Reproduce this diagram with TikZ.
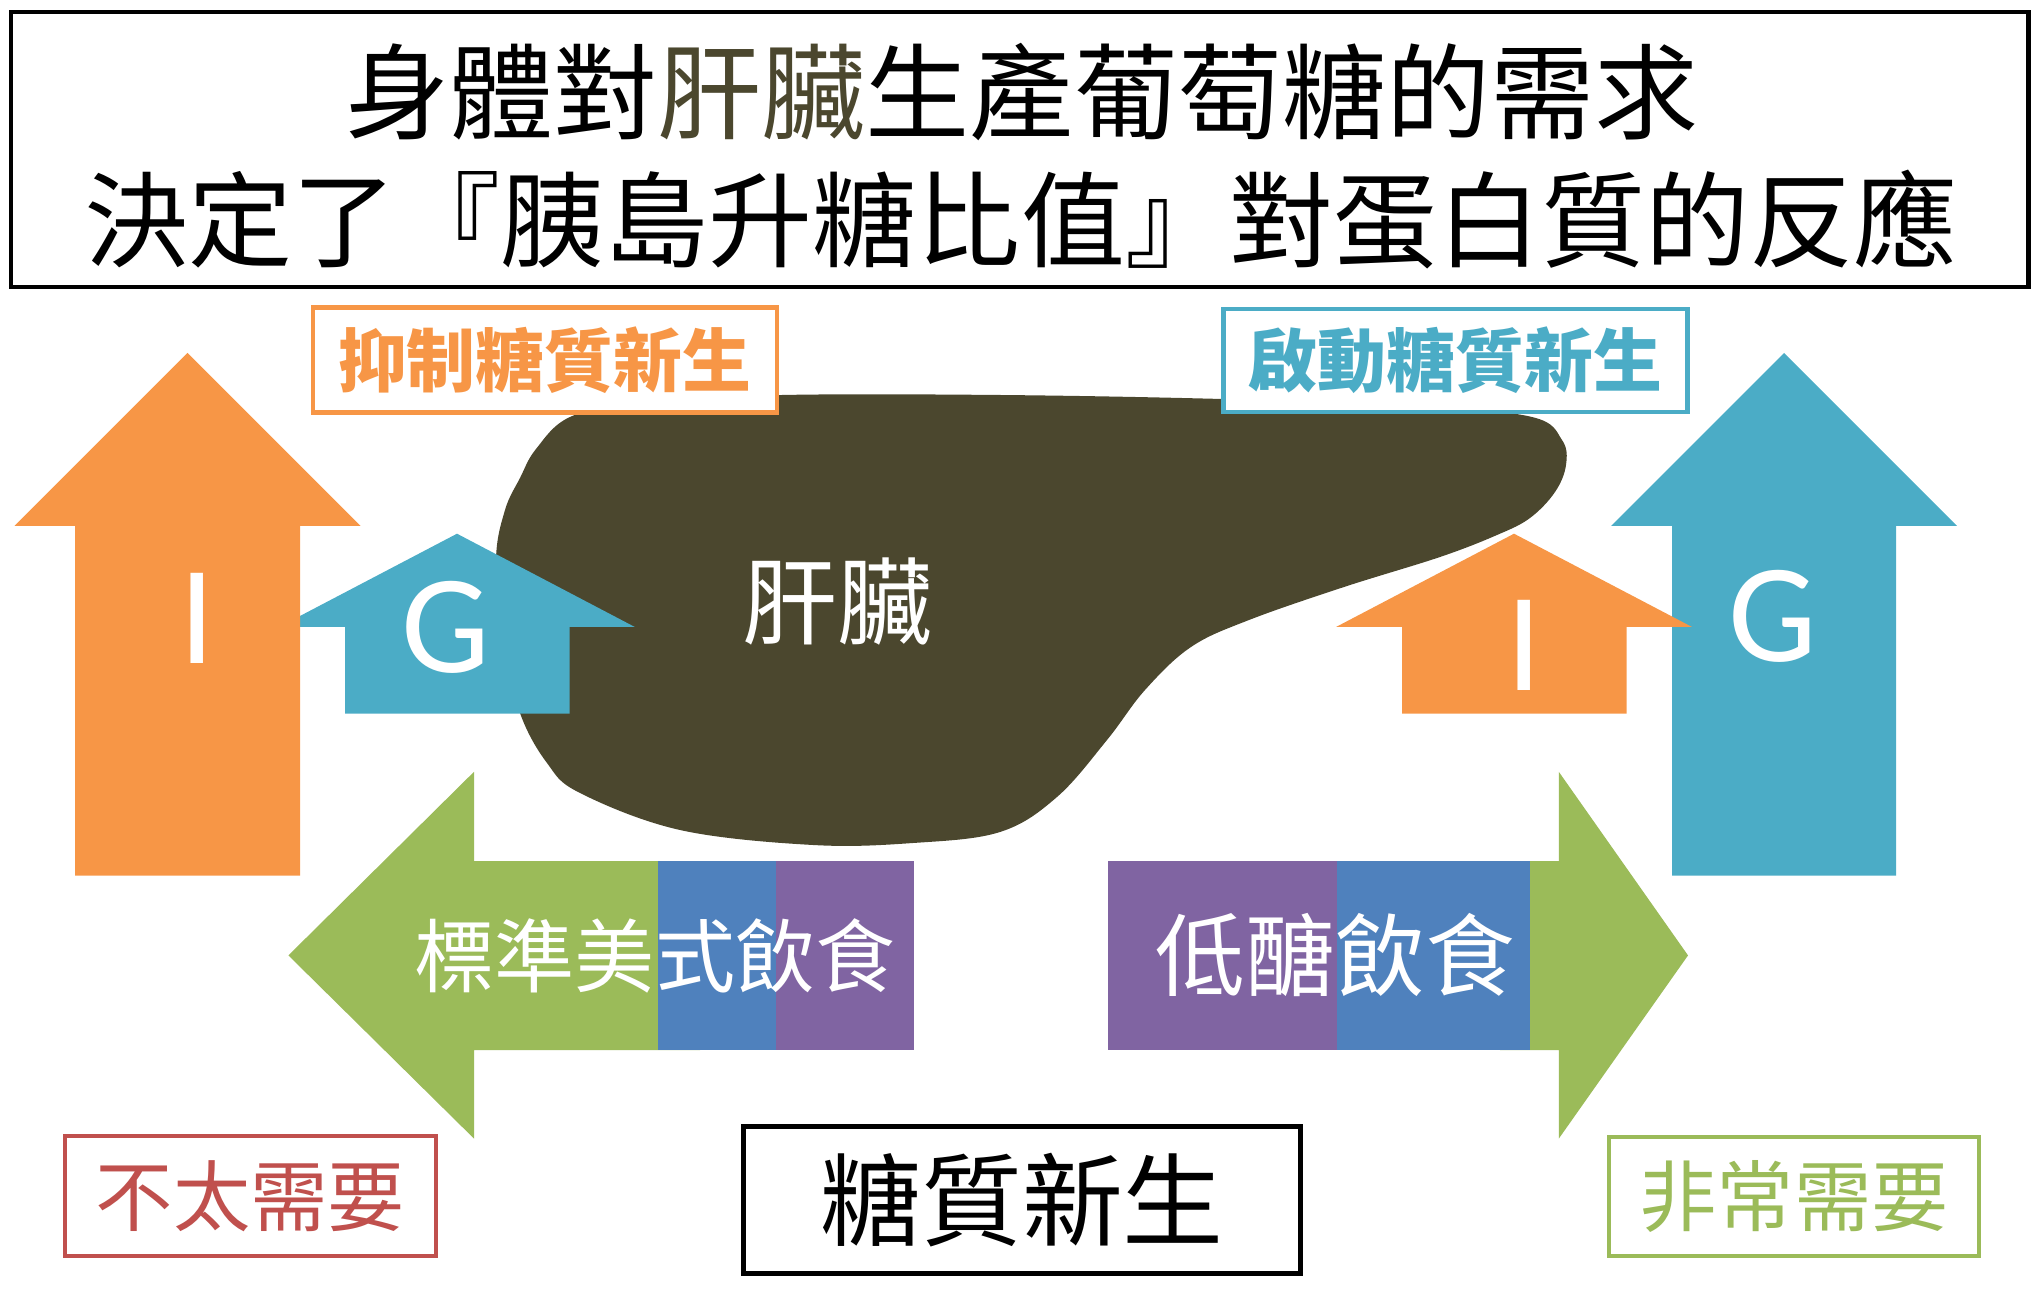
\documentclass[tikz,border=0pt]{standalone}
\usepackage{fontspec}
\setmainfont{Noto Sans CJK TC}
\newfontfamily\latinfont{Carlito}
\usetikzlibrary{positioning}

\definecolor{insulin}{HTML}{F79646}
\definecolor{glucagon}{HTML}{4BACC6}
\definecolor{dietgreen}{HTML}{9BBB59}
\definecolor{dietblue}{HTML}{4F81BD}
\definecolor{dietpurple}{HTML}{8064A2}
\definecolor{lowred}{HTML}{C0504D}
\definecolor{liverbrown}{HTML}{4B472E}

\begin{document}
\begin{tikzpicture}
  \tikzset{tag/.style={draw, line width=1.2pt, fill=white, inner sep=0pt, font=\fontsize{19.6}{22}\selectfont\bfseries},
           need/.style={draw, line width=1.2pt, fill=white, inner sep=0pt, font=\fontsize{22}{25}\selectfont},
           letter/.style={text=white, inner sep=0pt, font=\latinfont\fontsize{40}{44}\selectfont},
           diet/.style={text=white, inner sep=0pt}}
  \useasboundingbox (0,0) rectangle (20.42,12.90);

  %--- title ---
  \draw[line width=1.4pt, fill=white] (0.11,10.03) rectangle (20.28,12.78);
  \node[font=\fontsize{29.6}{32}\selectfont] (head1) at (10.22,11.975) {身體對{\color{liverbrown}肝臟}生產葡萄糖的需求};
  \node[font=\fontsize{29.6}{32}\selectfont] (head2) at (10.21,10.70) {決定了『胰島升糖比值』對蛋白質的反應};

  %--- liver ---
  \fill[liverbrown] plot[smooth cycle, tension=0.6] coordinates {
    (5.36,8.41) (5.70,8.73) (6.40,8.88) (7.82,8.95) (10.00,8.95) (12.22,8.91)
    (14.20,8.84) (15.32,8.73) (15.62,8.50) (15.66,8.25) (15.55,7.98) (15.30,7.72)
    (14.97,7.55) (14.40,7.33) (13.44,7.03) (12.49,6.70) (11.91,6.43) (11.45,6.00)
    (11.07,5.50) (10.57,4.93) (10.00,4.58) (9.13,4.47) (8.13,4.45) (6.80,4.60)
    (5.80,4.97) (5.47,5.27) (5.20,5.77) (5.03,6.50) (4.96,7.30) (5.05,7.80) (5.20,8.12)};
  \node[diet, font=\fontsize{27}{30}\selectfont] (liver) at (8.37,6.88) {肝臟};

  %--- left side: I up, G small ---
  \fill[glucagon] (3.45,5.764) -- (3.45,6.63) -- (2.79,6.63) -- (4.57,7.563)
    -- (6.348,6.63) -- (5.697,6.63) -- (5.697,5.764) -- cycle;
  \fill[insulin] (0.75,4.145) -- (0.75,7.64) -- (0.145,7.64) -- (1.875,9.37)
    -- (3.605,7.64) -- (3.00,7.64) -- (3.00,4.145) -- cycle;
  \node[letter] (bigI) at (1.97,6.72) {I};
  \node[letter] (smallG) at (4.46,6.63) {G};

  %--- right side: G up, I small ---
  \fill[glucagon] (16.72,4.145) -- (16.72,7.64) -- (16.11,7.64) -- (17.84,9.37)
    -- (19.57,7.64) -- (18.96,7.64) -- (18.96,4.145) -- cycle;
  \fill[insulin] (14.02,5.764) -- (14.02,6.63) -- (13.36,6.63) -- (15.14,7.563)
    -- (16.92,6.63) -- (16.265,6.63) -- (16.265,5.764) -- cycle;
  \node[letter] (smallI) at (15.24,6.45) {I};
  \node[letter] (bigG) at (17.73,6.74) {G};

  %--- gluconeogenesis tags ---
  \node[tag, draw=insulin, text=insulin, minimum width=4.64cm, minimum height=1.05cm] (stop) at (5.447,9.30) {抑制糖質新生};
  \node[tag, draw=glucagon, text=glucagon, minimum width=4.64cm, minimum height=1.03cm] (start) at (14.555,9.295) {啟動糖質新生};

  %--- diets ---
  \fill[dietgreen] (7.0,4.29) -- (4.74,4.29) -- (4.74,5.182) -- (2.884,3.346)
    -- (4.74,1.514) -- (4.74,2.40) -- (7.0,2.40) -- cycle;
  \fill[dietblue] (6.576,2.40) rectangle (7.76,4.29);
  \fill[dietpurple] (7.76,2.40) rectangle (9.14,4.29);
  \node[diet, font=\fontsize{22.8}{25}\selectfont] (western) at (6.55,3.34) {標準美式飲食};

  \fill[dietgreen] (15.0,4.29) -- (15.588,4.29) -- (15.588,5.182) -- (16.88,3.346)
    -- (15.588,1.514) -- (15.588,2.40) -- (15.0,2.40) -- cycle;
  \fill[dietpurple] (11.08,2.40) rectangle (13.368,4.29);
  \fill[dietblue] (13.368,2.40) rectangle (15.30,4.29);
  \node[diet, font=\fontsize{25.6}{28}\selectfont] (lowcarb) at (13.35,3.35) {低醣飲食};

  %--- bottom boxes ---
  \node[need, draw=lowred, text=lowred, minimum width=3.71cm, minimum height=1.20cm] (less) at (2.505,0.942) {不太需要};
  \node[draw, line width=1.5pt, inner sep=0pt, minimum width=5.57cm, minimum height=1.47cm,
        font=\fontsize{28.7}{31}\selectfont] (gng) at (10.22,0.90) {糖質新生};
  \node[need, draw=dietgreen, text=dietgreen, minimum width=3.70cm, minimum height=1.19cm] (more) at (17.94,0.935) {非常需要};
\end{tikzpicture}
\end{document}
